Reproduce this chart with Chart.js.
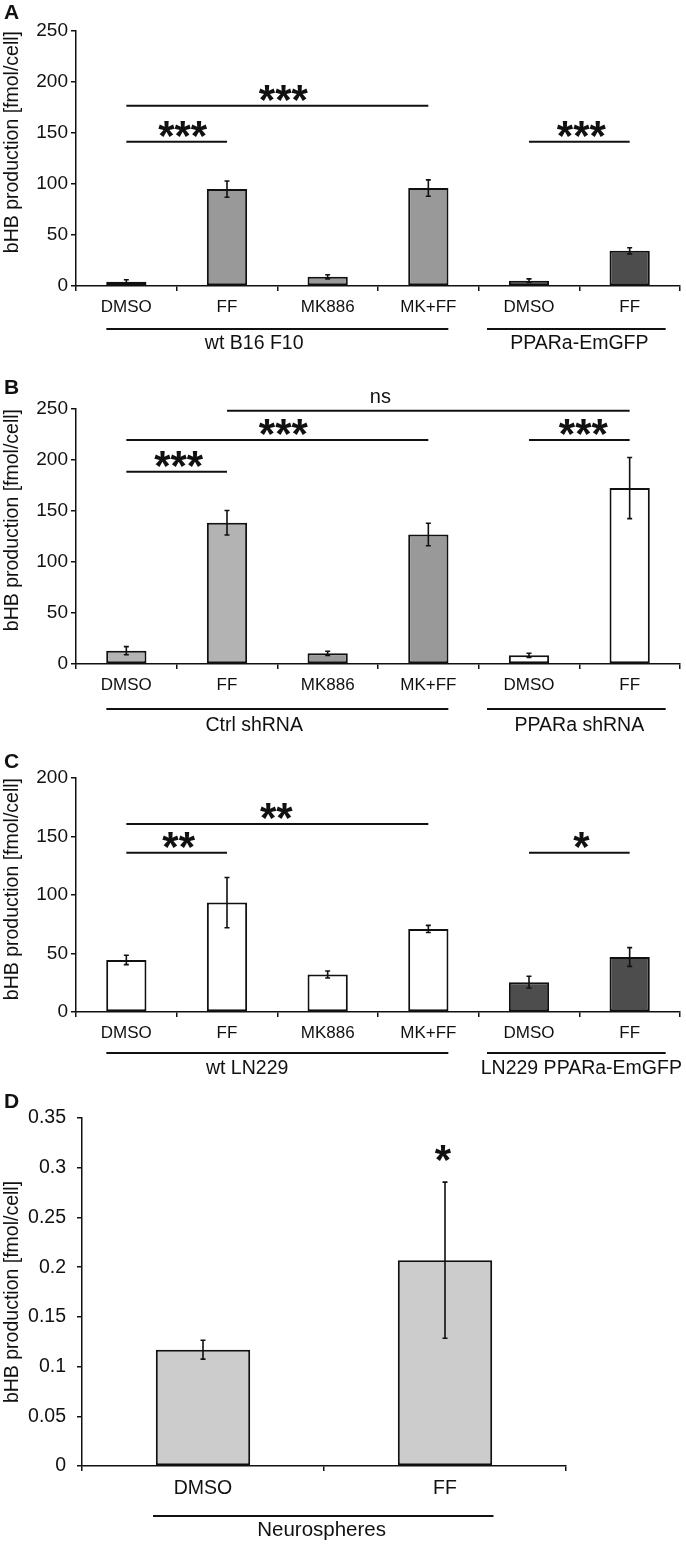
<!DOCTYPE html>
<html>
<head>
<meta charset="utf-8">
<script src="https://cdn.jsdelivr.net/npm/chart.js@4.4.1/dist/chart.umd.min.js"></script>
<style>
  html, body { margin: 0; padding: 0; background: #fff; }
  #page { position: relative; width: 686px; height: 1562px; overflow: hidden; }
  canvas { position: absolute; left: 0; }
</style>
</head>
<body>
<div id="page">
  <canvas id="panelA"></canvas>
  <canvas id="panelB"></canvas>
  <canvas id="panelC"></canvas>
  <canvas id="panelD"></canvas>
</div>
<script>
// ---- data ----
const treatments = ['DMSO', 'FF', 'MK886', 'MK+FF', 'DMSO', 'FF'];
const neuroTreatments = ['DMSO', 'FF'];

const aValues = [4.2, 95, 9, 96, 5.2, 34.5];
const aErrors = [2, 8, 2, 8, 1.8, 3];
const aGroups = ['wt B16 F10', 'PPARa-EmGFP'];

const bValues = [13, 138.5, 10.5, 127, 8.5, 172.5];
const bErrors = [4, 12, 2, 11, 2, 30];
const bGroups = ['Ctrl shRNA', 'PPARa shRNA'];

const cValues = [44.5, 93.5, 32, 71, 25.5, 47];
const cErrors = [4, 21.5, 3, 3, 5, 8];
const cGroups = ['wt LN229', 'LN229 PPARa-EmGFP'];

const dValues = [0.117, 0.207];
const dErrors = [0.0095, 0.0785];
const dGroups = ['Neurospheres'];

const yTitle = 'bHB production [fmol/cell]';
const FONT = '"Liberation Sans", Arial, Helvetica, sans-serif';
const INK = '#111';
const W = 686;

// centre a string on (cx, cy) using its real ink box
function inkText(ctx, txt, cx, cy) {
  const m = ctx.measureText(txt);
  ctx.textAlign = 'center';
  ctx.textBaseline = 'alphabetic';
  ctx.fillText(txt, cx, cy + (m.actualBoundingBoxAscent - m.actualBoundingBoxDescent) / 2);
}

const panelDecor = {
  id: 'panelDecor',
  afterDraw(chart, args, o) {
    const ctx = chart.ctx;
    const xs = chart.scales.x, ys = chart.scales.y;
    const meta = chart.getDatasetMeta(0);
    const vals = chart.data.datasets[0].data;
    ctx.save();
    ctx.strokeStyle = INK;
    ctx.fillStyle = INK;

    // error bars
    ctx.lineWidth = 1.6;
    meta.data.forEach((bar, i) => {
      const top = ys.getPixelForValue(vals[i] + o.errors[i]);
      const bot = ys.getPixelForValue(vals[i] - o.errors[i]);
      ctx.beginPath();
      ctx.moveTo(bar.x, top); ctx.lineTo(bar.x, bot);
      ctx.moveTo(bar.x - 2.5, top); ctx.lineTo(bar.x + 2.5, top);
      ctx.moveTo(bar.x - 2.5, bot); ctx.lineTo(bar.x + 2.5, bot);
      ctx.stroke();
    });

    // significance brackets
    o.brackets.forEach(b => {
      const x1 = xs.getPixelForValue(b.from), x2 = xs.getPixelForValue(b.to);
      const yy = ys.getPixelForValue(b.y);
      if (b.line !== false) {
        ctx.lineWidth = 2;
        ctx.beginPath(); ctx.moveTo(x1, yy); ctx.lineTo(x2, yy); ctx.stroke();
      }
      ctx.font = b.label === 'ns' ? '20px ' + FONT : 'bold 42px ' + FONT;
      inkText(ctx, b.label, (x1 + x2) / 2 + (b.dx || 0), yy - (b.line === false ? 0 : 13));
    });

    // group underlines and names
    o.groups.forEach((g, k) => {
      const lay = o.groupLayout[k];
      const gx1 = xs.getPixelForValue(lay.first) + lay.padL;
      const gx2 = xs.getPixelForValue(lay.last) + lay.padR;
      const gy = ys.bottom + o.groupLineGap;
      ctx.lineWidth = 2;
      ctx.beginPath(); ctx.moveTo(gx1, gy); ctx.lineTo(gx2, gy); ctx.stroke();
      const step = xs.getPixelForValue(1) - xs.getPixelForValue(0);
      ctx.font = o.groupFont + 'px ' + FONT;
      inkText(ctx, g, xs.getPixelForValue(0) + lay.labelAt * step, ys.bottom + o.groupLabelGap);
    });

    // panel letter
    ctx.font = 'bold 21px ' + FONT;
    ctx.textAlign = 'left';
    ctx.textBaseline = 'alphabetic';
    ctx.fillText(o.letter, 4, o.letterBase);
    ctx.restore();
  }
};

function makePanel(id, p) {
  const cv = document.getElementById(id);
  cv.width = W; cv.height = p.height;
  cv.style.top = p.top + 'px';
  cv.style.width = W + 'px';
  cv.style.height = p.height + 'px';
  return new Chart(cv, {
    type: 'bar',
    data: {
      labels: p.labels,
      datasets: [{
        data: p.values,
        backgroundColor: p.colors,
        borderColor: INK,
        borderWidth: 2,
        borderSkipped: false,
        barPercentage: p.barPct,
        categoryPercentage: 1
      }]
    },
    options: {
      responsive: false,
      animation: false,
      devicePixelRatio: 1,
      layout: { padding: { top: p.plot.top, right: W - p.plot.right, left: 0, bottom: p.height - p.plotEnd } },
      plugins: {
        legend: { display: false },
        tooltip: { enabled: false },
        panelDecor: {
          letter: p.letter, letterBase: p.letterBase,
          errors: p.errors, brackets: p.brackets,
          groups: p.groups, groupLayout: p.groupLayout,
          groupLineGap: p.groupLineGap, groupLabelGap: p.groupLabelGap, groupFont: p.groupFont
        }
      },
      scales: {
        x: {
          grid: { display: true, drawOnChartArea: false, offset: true, tickLength: 5, color: INK, lineWidth: 1.5 },
          border: { display: true, color: INK, width: 1.5 },
          ticks: { color: INK, font: { size: p.xFont, family: FONT }, padding: p.xPad, maxRotation: 0, autoSkip: false },
          afterFit: s => { s.height = p.plotEnd - p.plot.bottom; }
        },
        y: {
          min: 0, max: p.yMax,
          ticks: { stepSize: p.yStep, color: INK, font: { size: p.yFont, family: FONT }, padding: p.yPad,
                   callback: v => String(+v.toFixed(2)) },
          grid: { drawOnChartArea: false, tickLength: 5, color: INK, lineWidth: 1.5 },
          border: { display: true, color: INK, width: 1.5 },
          title: { display: true, text: yTitle, color: INK, align: p.titleAlign,
                   font: { size: 19.5, family: FONT }, padding: { top: 1, bottom: 0 } },
          afterFit: s => { s.width = p.plot.left; }
        }
      }
    },
    plugins: [panelDecor]
  });
}

const sixGroupLayout = [
  { first: 0, last: 3, padL: -20, padR: 20, labelAt: 1.27 },
  { first: 4, last: 5, padL: -42, padR: 36, labelAt: 4.5 }
];

// canvases overlap (they are transparent); plotEnd is where the x scale box ends
makePanel('panelA', {
  top: 0, height: 380, plotEnd: 358, letter: 'A', letterBase: 19,
  plot: { left: 76, right: 680, top: 31, bottom: 286 },
  labels: treatments, values: aValues, errors: aErrors,
  colors: ['#999999', '#999999', '#999999', '#999999', '#4d4d4d', '#4d4d4d'],
  barPct: 0.4, yMax: 250, yStep: 50, yFont: 19, yPad: 3, xFont: 17, xPad: 6, titleAlign: 'end',
  brackets: [
    { from: 0, to: 1, y: 141.5, label: '***', dx: 6 },
    { from: 0, to: 3, y: 176.8, label: '***', dx: 6 },
    { from: 4, to: 5, y: 141.5, label: '***', dx: 2 }
  ],
  groups: aGroups, groupLayout: sixGroupLayout, groupLineGap: 43, groupLabelGap: 56, groupFont: 19.5
});

makePanel('panelB', {
  top: 358, height: 390, plotEnd: 372, letter: 'B', letterBase: 36,
  plot: { left: 76, right: 680, top: 51, bottom: 306 },
  labels: treatments, values: bValues, errors: bErrors,
  colors: ['#b3b3b3', '#b3b3b3', '#999999', '#999999', '#ffffff', '#ffffff'],
  barPct: 0.4, yMax: 250, yStep: 50, yFont: 19, yPad: 3, xFont: 17, xPad: 6, titleAlign: 'end',
  brackets: [
    { from: 0, to: 1, y: 188.5, label: '***', dx: 2 },
    { from: 0, to: 3, y: 219.6, label: '***', dx: 6 },
    { from: 4, to: 5, y: 219.6, label: '***', dx: 4 },
    { from: 1, to: 5, y: 248.3, label: 'ns', dx: -48 }
  ],
  groups: bGroups, groupLayout: sixGroupLayout, groupLineGap: 45, groupLabelGap: 59, groupFont: 19.5
});

makePanel('panelC', {
  top: 730, height: 370, plotEnd: 348, letter: 'C', letterBase: 38,
  plot: { left: 76, right: 680, top: 48, bottom: 282 },
  labels: treatments, values: cValues, errors: cErrors,
  colors: ['#ffffff', '#ffffff', '#ffffff', '#ffffff', '#4d4d4d', '#4d4d4d'],
  barPct: 0.4, yMax: 200, yStep: 50, yFont: 19, yPad: 3, xFont: 17, xPad: 6, titleAlign: 'end',
  brackets: [
    { from: 0, to: 1, y: 136.2, label: '**', dx: 2 },
    { from: 0, to: 3, y: 160.7, label: '**', dx: -1 },
    { from: 4, to: 5, y: 136.2, label: '*', dx: 2 }
  ],
  groups: cGroups,
  groupLayout: [
    { first: 0, last: 3, padL: -20, padR: 20, labelAt: 1.2 },
    { first: 4, last: 5, padL: -42, padR: 36, labelAt: 4.52 }
  ],
  groupLineGap: 41, groupLabelGap: 55, groupFont: 19.5
});

makePanel('panelD', {
  top: 1078, height: 484, plotEnd: 484, letter: 'D', letterBase: 30,
  plot: { left: 82, right: 566, top: 40, bottom: 388 },
  labels: neuroTreatments, values: dValues, errors: dErrors,
  colors: ['#cccccc', '#cccccc'],
  barPct: 0.39, yMax: 0.35, yStep: 0.05, yFont: 19.5, yPad: 11, xFont: 19.5, xPad: 6, titleAlign: 'center',
  brackets: [
    { from: 1, to: 1, y: 0.315, label: '*', line: false, dx: -2 }
  ],
  groups: dGroups,
  groupLayout: [{ first: 0, last: 1, padL: -50, padR: 48.5, labelAt: 0.49 }],
  groupLineGap: 50, groupLabelGap: 64, groupFont: 20.5
});
</script>
</body>
</html>
